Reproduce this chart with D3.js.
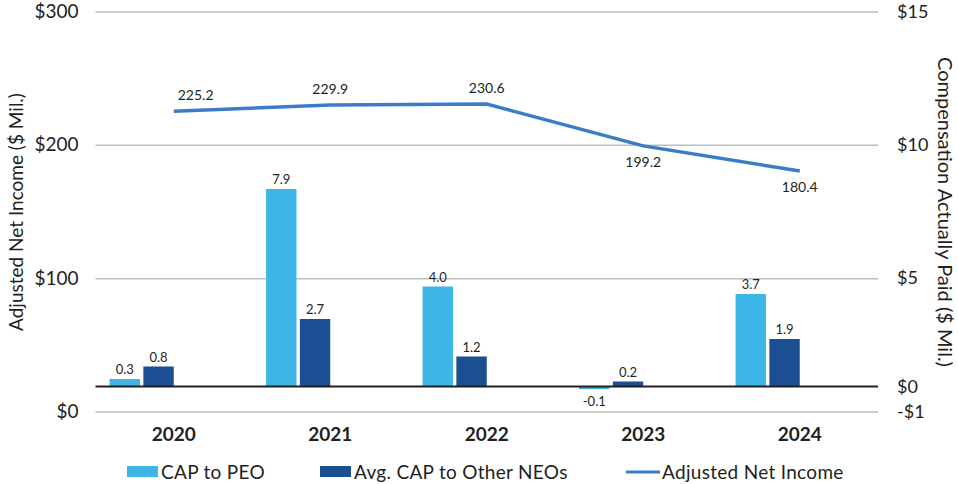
<!DOCTYPE html>
<html>
  <head>
    <meta charset="UTF-8" />
    <title>CAP vs Adjusted Net Income</title>
    <style>
      body { margin: 0; background: #fff; }
      text { font-family: Lato, "Open Sans", sans-serif; fill: #231f20; }
    </style>
  </head>
  <body>
    <script src="https://cdn.jsdelivr.net/npm/d3@7/dist/d3.min.js"></script>
    <script>
      var years = ["2020", "2021", "2022", "2023", "2024"];
      var capPeo = [0.3, 7.9, 4.0, -0.1, 3.7];
      var capNeo = [0.8, 2.7, 1.2, 0.2, 1.9];
      var netIncome = [225.2, 229.9, 230.6, 199.2, 180.4];
      var netLabelPos = ["above", "above", "above", "below", "below"];
      var leftTicks = [0, 100, 200, 300];
      var rightTicks = [-1, 0, 5, 10, 15];

      var colPeo = "#3db5e6", colNeo = "#1b4f91", colLine = "#3b7cc8";

      var width = 958, height = 484;
      var plotL = 95.5, plotR = 878, plotT = 11.5, plotB = 411.5;

      var svg = d3.select("body").append("svg")
        .attr("width", width)
        .attr("height", height);

      var x = d3.scaleBand().domain(years).range([plotL, plotR]);
      var bw = x.bandwidth();
      var sub = d3.scaleBand().domain(["peo", "neo"])
        .range([0.09 * bw, 0.5 * bw]).paddingInner(0.1);

      var yL = d3.scaleLinear().domain([0, 300]).range([plotB, plotT]);
      var yR = d3.scaleLinear().domain([-1, 15]).range([plotB, plotT]);
      // right axis labels sit on the gridlines in the original, not on yR
      var yRLabel = d3.scaleLinear()
        .domain([-1, 0, 5, 10, 15])
        .range([plotB, yR(0), yL(100), yL(200), yL(300)]);

      // gridlines + left axis
      var gridAxis = d3.axisLeft(yL).tickValues(leftTicks)
        .tickSize(-(plotR - plotL)).tickPadding(17)
        .tickFormat(function(d) { return "$" + d; });
      var gL = svg.append("g").attr("transform", "translate(" + plotL + ",0)").call(gridAxis);
      gL.select(".domain").remove();
      gL.selectAll("line").attr("stroke", "#bdbdbd").attr("stroke-width", 1.5);
      gL.selectAll("text").style("font-size", "19px").attr("fill", "#231f20");

      // right axis, labels only
      var rAxis = d3.axisRight(yRLabel).tickValues(rightTicks).tickSize(0).tickPadding(19)
        .tickFormat(function(d) { return d < 0 ? "-$" + (-d) : "$" + d; });
      var gR = svg.append("g").attr("transform", "translate(" + plotR + ",0)").call(rAxis);
      gR.select(".domain").remove();
      gR.selectAll("text").style("font-size", "18px").attr("fill", "#231f20");

      // bars
      var rows = years.map(function(y, i) { return { year: y, peo: capPeo[i], neo: capNeo[i] }; });
      var groups = svg.append("g").selectAll("g").data(rows).enter().append("g")
        .attr("transform", function(d) { return "translate(" + x(d.year) + ",0)"; });

      ["peo", "neo"].forEach(function(k) {
        groups.append("rect")
          .attr("x", sub(k))
          .attr("width", sub.bandwidth())
          .attr("y", function(d) { return yR(Math.max(0, d[k])); })
          .attr("height", function(d) { return Math.abs(yR(d[k]) - yR(0)); })
          .attr("fill", k == "peo" ? colPeo : colNeo);
        groups.append("text")
          .attr("x", sub(k) + sub.bandwidth() / 2)
          .attr("y", function(d) { return d[k] < 0 ? yR(d[k]) + 17 : yR(d[k]) - 5; })
          .attr("text-anchor", "middle")
          .style("font-size", "13px")
          .text(function(d) { return d[k].toFixed(1); });
      });

      // zero line for bars
      svg.append("line")
        .attr("x1", plotL).attr("x2", plotR)
        .attr("y1", yR(0)).attr("y2", yR(0))
        .attr("stroke", "#231f20").attr("stroke-width", 2);

      // line
      var cx = function(d, i) { return x(years[i]) + bw / 2; };
      var line = d3.line().x(cx).y(function(d) { return yL(d); });
      svg.append("path").datum(netIncome)
        .attr("d", line)
        .attr("fill", "none")
        .attr("stroke", colLine)
        .attr("stroke-width", 3.5);

      svg.append("g").selectAll("text").data(netIncome).enter().append("text")
        .attr("x", function(d, i) { return i == 0 ? cx(d, i) + 4 : cx(d, i); })
        .attr("y", function(d, i) { return netLabelPos[i] == "above" ? yL(d) - 11 : yL(d) + 21; })
        .attr("text-anchor", function(d, i) { return i == 0 ? "start" : "middle"; })
        .style("font-size", "14px")
        .text(function(d) { return d.toFixed(1); });

      // year labels
      svg.append("g").selectAll("text").data(years).enter().append("text")
        .attr("x", function(d) { return x(d) + bw / 2; })
        .attr("y", 441)
        .attr("text-anchor", "middle")
        .style("font-size", "19px")
        .style("font-weight", "bold")
        .text(function(d) { return d; });

      // axis titles
      svg.append("text")
        .attr("transform", "translate(23,212) rotate(-90)")
        .attr("text-anchor", "middle")
        .style("font-size", "19px")
        .text("Adjusted Net Income ($ Mil.)");
      svg.append("text")
        .attr("transform", "translate(938,212) rotate(90)")
        .attr("text-anchor", "middle")
        .style("font-size", "20px")
        .text("Compensation Actually Paid ($ Mil.)");

      // legend
      var legend = [
        { label: "CAP to PEO", color: colPeo, type: "rect", x: 127 },
        { label: "Avg. CAP to Other NEOs", color: colNeo, type: "rect", x: 320 },
        { label: "Adjusted Net Income", color: colLine, type: "line", x: 626 }
      ];
      var lg = svg.append("g").selectAll("g").data(legend).enter().append("g")
        .attr("transform", function(d) { return "translate(" + d.x + ",472)"; });
      lg.filter(function(d) { return d.type == "rect"; }).append("rect")
        .attr("x", 0).attr("y", -6).attr("width", 31).attr("height", 11)
        .attr("fill", function(d) { return d.color; });
      lg.filter(function(d) { return d.type == "line"; }).append("line")
        .attr("x1", 0).attr("x2", 34).attr("y1", 0).attr("y2", 0)
        .attr("stroke", function(d) { return d.color; }).attr("stroke-width", 3);
      lg.append("text")
        .attr("x", function(d) { return d.type == "rect" ? 34 : 36; })
        .attr("y", 6.5)
        .style("font-size", "19px")
        .style("letter-spacing", "0.3px")
        .text(function(d) { return d.label; });
    </script>
  </body>
</html>
